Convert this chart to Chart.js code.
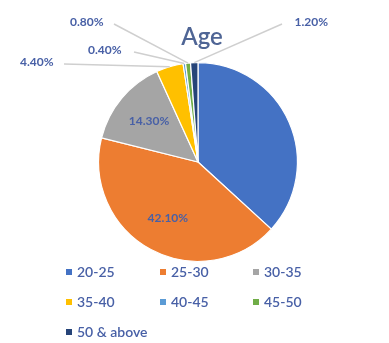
<!DOCTYPE html>
<html>
<head>
<meta charset="utf-8">
<script src="https://cdn.jsdelivr.net/npm/chart.js@4.4.0/dist/chart.umd.min.js"></script>
<style>
  body { margin: 0; background: #fff; }
  #wrap { position: relative; width: 389px; height: 343px; }
</style>
</head>
<body>
<div id="wrap"><canvas id="ageChart"></canvas></div>
<script>
// Dados do gráfico
const faixas = ['20-25', '25-30', '30-35', '35-40', '40-45', '45-50', '50 & above'];
const percentuais = [36.8, 42.1, 14.3, 4.4, 0.4, 0.8, 1.2];
const rotulos = ['36.80%', '42.10%', '14.30%', '4.40%', '0.40%', '0.80%', '1.20%'];
const cores = ['#4472C4', '#ED7D31', '#A5A5A5', '#FFC000', '#5B9BD5', '#70AD47', '#264478'];

const corTexto = '#4860A6';
const fonte = 'Lato, "Open Sans", sans-serif';

// posições dos rótulos externos (fatias pequenas)
const rotuloExterno = {
  3: { x: 20, y: 62, align: 'left', lineFrom: 64 },
  4: { x: 88, y: 50, align: 'left', lineFrom: 134 },
  5: { x: 70, y: 22, align: 'left', lineFrom: 114 },
  6: { x: 328, y: 22, align: 'right', lineFrom: 282 }
};

const labelsPlugin = {
  id: 'labelsPlugin',
  afterDraw(chart) {
    const ctx = chart.ctx;
    const meta = chart.getDatasetMeta(0);
    ctx.save();
    // título
    ctx.fillStyle = '#4F6595';
    ctx.font = '600 24px ' + fonte;
    ctx.textAlign = 'center';
    ctx.textBaseline = 'middle';
    ctx.fillText('Age', 202, 37);

    ctx.font = 'bold 12px ' + fonte;
    meta.data.forEach((arc, i) => {
      const p = arc.getProps(['x', 'y', 'startAngle', 'endAngle', 'outerRadius'], true);
      const mid = (p.startAngle + p.endAngle) / 2;
      if (i === 1 || i === 2) {
        const r = p.outerRadius * 0.64;
        ctx.fillStyle = corTexto;
        ctx.textAlign = 'center';
        ctx.textBaseline = 'middle';
        ctx.fillText(rotulos[i], p.x + Math.cos(mid) * r, p.y + Math.sin(mid) * r);
      } else if (rotuloExterno[i]) {
        const o = rotuloExterno[i];
        const ax = p.x + Math.cos(mid) * p.outerRadius;
        const ay = p.y + Math.sin(mid) * p.outerRadius;
        ctx.strokeStyle = '#CFCFCF';
        ctx.lineWidth = 1.5;
        ctx.beginPath();
        ctx.moveTo(o.lineFrom, o.y + 2);
        ctx.lineTo(ax, ay);
        ctx.stroke();
        ctx.fillStyle = corTexto;
        ctx.textAlign = o.align;
        ctx.textBaseline = 'middle';
        ctx.fillText(rotulos[i], o.x, o.y);
      }
    });

    // legenda em colunas
    const colX = [66, 160, 253];
    const rowY = [272, 302, 332];
    ctx.font = '600 14px ' + fonte;
    ctx.textAlign = 'left';
    ctx.textBaseline = 'middle';
    faixas.forEach((f, i) => {
      const x = colX[i % 3];
      const y = rowY[Math.floor(i / 3)];
      ctx.fillStyle = cores[i];
      ctx.fillRect(x, y - 3, 6, 6);
      ctx.fillStyle = corTexto;
      ctx.fillText(f, x + 11, y);
    });
    ctx.restore();
  }
};

new Chart(document.getElementById('ageChart'), {
  type: 'pie',
  data: {
    labels: faixas,
    datasets: [{ data: percentuais, backgroundColor: cores, borderColor: '#ffffff', borderWidth: 1.2 }]
  },
  options: {
    responsive: true, maintainAspectRatio: false,
    animation: false,
    layout: { padding: { top: 62, bottom: 81, left: 98, right: 91 } },
    plugins: { legend: { display: false }, title: { display: false }, tooltip: { enabled: false } }
  },
  plugins: [labelsPlugin]
});
</script>
</body>
</html>
